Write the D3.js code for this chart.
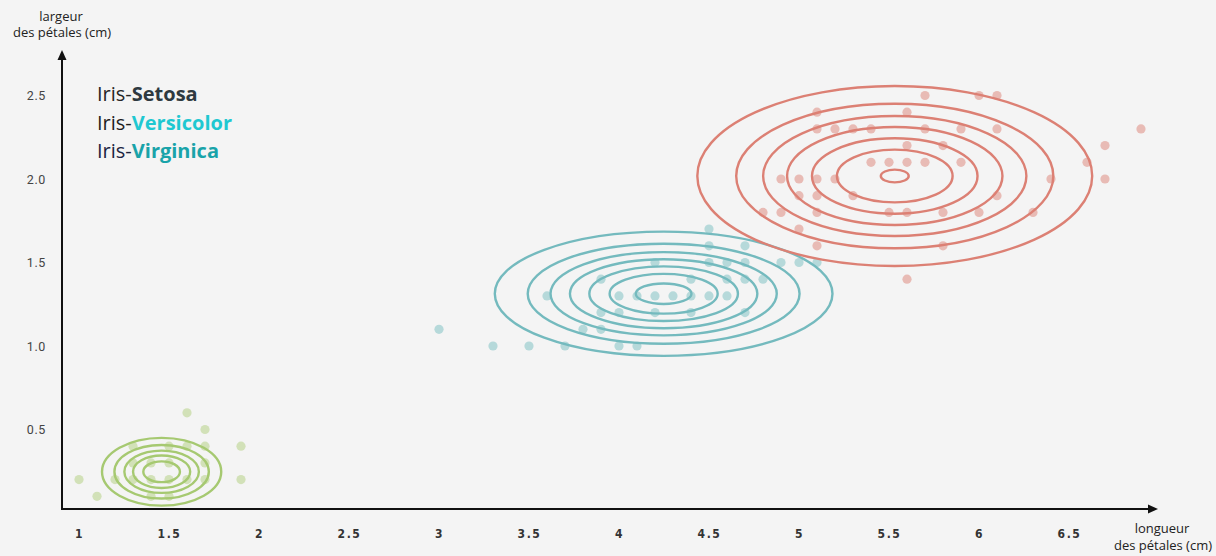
<!DOCTYPE html>
<html>
<head>
<meta charset="utf-8">
<script src="https://cdn.jsdelivr.net/npm/d3@7"></script>
<style>
  html, body { margin: 0; padding: 0; background: #f4f4f4; }
  svg { display: block; }
</style>
</head>
<body>
<svg id="chart" width="1216" height="556"></svg>
<script>
// Petal length (cm) on x, petal width (cm) on y
const xTicks = [1, 1.5, 2, 2.5, 3, 3.5, 4, 4.5, 5, 5.5, 6, 6.5];
const yTicks = [0.5, 1.0, 1.5, 2.0, 2.5];

const speciesNames = ["Setosa", "Versicolor", "Virginica"];

// Observations: [petal length, petal width]
const setosaPoints = [
  [1.0, 0.2], [1.1, 0.1], [1.2, 0.2], [1.3, 0.2], [1.3, 0.3], [1.3, 0.4],
  [1.4, 0.1], [1.4, 0.2], [1.4, 0.3], [1.5, 0.1], [1.5, 0.2], [1.5, 0.3],
  [1.5, 0.4], [1.6, 0.2], [1.6, 0.4], [1.6, 0.6], [1.7, 0.2], [1.7, 0.3],
  [1.7, 0.4], [1.7, 0.5], [1.9, 0.2], [1.9, 0.4]
];
const versicolorPoints = [
  [3.0, 1.1], [3.3, 1.0], [3.5, 1.0], [3.7, 1.0], [4.0, 1.0], [4.1, 1.0],
  [3.8, 1.1], [3.9, 1.1], [3.9, 1.2], [4.0, 1.2], [4.2, 1.2], [4.4, 1.2],
  [4.7, 1.2], [3.6, 1.3], [4.0, 1.3], [4.1, 1.3], [4.2, 1.3], [4.3, 1.3],
  [4.4, 1.3], [4.5, 1.3], [4.6, 1.3], [3.9, 1.4], [4.4, 1.4], [4.6, 1.4],
  [4.7, 1.4], [4.8, 1.4], [4.2, 1.5], [4.5, 1.5], [4.6, 1.5], [4.7, 1.5],
  [4.9, 1.5], [5.0, 1.5], [5.1, 1.5], [4.5, 1.6], [4.7, 1.6], [4.5, 1.7]
];
const virginicaPoints = [
  [5.7, 2.5], [6.0, 2.5], [6.1, 2.5], [5.1, 2.4], [5.6, 2.4], [5.1, 2.3],
  [5.2, 2.3], [5.3, 2.3], [5.4, 2.3], [5.7, 2.3], [5.9, 2.3], [6.1, 2.3],
  [6.9, 2.3], [5.6, 2.2], [5.8, 2.2], [6.7, 2.2], [5.4, 2.1], [5.5, 2.1],
  [5.6, 2.1], [5.7, 2.1], [5.9, 2.1], [6.6, 2.1], [4.9, 2.0], [5.0, 2.0],
  [5.1, 2.0], [5.2, 2.0], [6.4, 2.0], [6.7, 2.0], [5.0, 1.9], [5.1, 1.9],
  [5.3, 1.9], [6.1, 1.9], [4.8, 1.8], [4.9, 1.8], [5.1, 1.8], [5.5, 1.8],
  [5.6, 1.8], [5.8, 1.8], [6.0, 1.8], [6.3, 1.8], [5.0, 1.7], [5.1, 1.6],
  [5.8, 1.6], [5.6, 1.4]
];

// Gaussian fit per species: mean and standard deviation on each axis
const speciesMeans = [[1.459, 0.247], [4.248, 1.313], [5.532, 2.018]];
const speciesSd    = [[0.1725, 0.1056], [0.469, 0.186], [0.554, 0.272]];

// Density contour levels, expressed as distance from the mean in standard deviations
const setosaLevels     = [0.59, 0.92, 1.2, 1.52, 1.92];
const versicolorLevels = [0.33, 0.64, 0.88, 1.11, 1.34, 1.61, 2.0];
const virginicaLevels  = [0.14, 0.58, 0.83, 1.08, 1.32, 1.59, 1.98];

const series = [
  { name: speciesNames[0], points: setosaPoints,     mean: speciesMeans[0], sd: speciesSd[0], levels: setosaLevels,
    dot: "#d2e1b8", line: "#a6c971", label: "#2e3940", prefix: "#262626" },
  { name: speciesNames[1], points: versicolorPoints, mean: speciesMeans[1], sd: speciesSd[1], levels: versicolorLevels,
    dot: "#b6d9da", line: "#74babe", label: "#1fc8d1", prefix: "#1e1e1e" },
  { name: speciesNames[2], points: virginicaPoints,  mean: speciesMeans[2], sd: speciesSd[2], levels: virginicaLevels,
    dot: "#e8bbb5", line: "#dc8074", label: "#19a3a9", prefix: "#1b2442" }
];

const svg = d3.select("#chart");
svg.append("rect").attr("width", 1216).attr("height", 556).attr("fill", "#f4f4f4");

const x = d3.scaleLinear().domain([1, 7]).range([79, 1159]);
const y = d3.scaleLinear().domain([0, 2.5]).range([513, 95.5]);

// Frame of the axes (arrowed lines)
const axisX0 = 62, axisY0 = 509, axisXEnd = 1158, axisYEnd = 50;

// Marks
series.forEach(s => {
  const g = svg.append("g");
  g.selectAll("circle")
    .data(s.points)
    .join("circle")
    .attr("cx", d => x(d[0]))
    .attr("cy", d => y(d[1]))
    .attr("r", 4.6)
    .attr("fill", s.dot);

  g.selectAll("ellipse")
    .data(s.levels)
    .join("ellipse")
    .attr("cx", x(s.mean[0]))
    .attr("cy", y(s.mean[1]))
    .attr("rx", k => x(s.mean[0] + k * s.sd[0]) - x(s.mean[0]))
    .attr("ry", k => y(s.mean[1]) - y(s.mean[1] + k * s.sd[1]))
    .attr("fill", "none")
    .attr("stroke", s.line)
    .attr("stroke-width", 2.4);
});

// Axis lines with arrowheads
svg.append("line")
  .attr("x1", axisX0).attr("y1", axisY0 + 1).attr("x2", axisX0).attr("y2", axisYEnd + 6)
  .attr("stroke", "#111").attr("stroke-width", 2);
svg.append("path")
  .attr("d", `M${axisX0},${axisYEnd} L${axisX0 - 4.5},${axisYEnd + 10} L${axisX0 + 4.5},${axisYEnd + 10} Z`)
  .attr("fill", "#111");
svg.append("line")
  .attr("x1", axisX0 - 1).attr("y1", axisY0).attr("x2", axisXEnd - 6).attr("y2", axisY0)
  .attr("stroke", "#111").attr("stroke-width", 2);
svg.append("path")
  .attr("d", `M${axisXEnd},${axisY0} L${axisXEnd - 10},${axisY0 - 4.5} L${axisXEnd - 10},${axisY0 + 4.5} Z`)
  .attr("fill", "#111");

// Tick labels
const xAxis = svg.append("g")
  .attr("transform", `translate(0,${axisY0})`)
  .call(d3.axisBottom(x).tickValues(xTicks).tickSize(0).tickPadding(20)
    .tickFormat(d => d3.format("")(d)));
xAxis.select(".domain").remove();
xAxis.selectAll("text")
  .attr("font-family", "'DejaVu Sans Condensed', 'DejaVu Sans', sans-serif")
  .attr("font-weight", "bold")
  .attr("font-size", 12)
  .attr("letter-spacing", "1.6px")
  .attr("fill", "#333");

const yAxis = svg.append("g")
  .attr("transform", `translate(${axisX0},0)`)
  .call(d3.axisLeft(y).tickValues(yTicks).tickSize(0).tickPadding(16)
    .tickFormat(d3.format(".1f")));
yAxis.select(".domain").remove();
yAxis.selectAll("text")
  .attr("font-family", "Roboto, sans-serif")
  .attr("font-size", 12.5)
  .attr("letter-spacing", "0.6px")
  .attr("fill", "#444");

// Axis titles
const titleFont = "'Open Sans', sans-serif";
const yTitle = svg.append("text")
  .attr("font-family", titleFont).attr("font-size", 13).attr("fill", "#222")
  .attr("text-anchor", "middle");
yTitle.append("tspan").attr("x", 61).attr("y", 21).text("largeur");
yTitle.append("tspan").attr("x", 62).attr("y", 37).text("des pétales (cm)");

const xTitle = svg.append("text")
  .attr("font-family", titleFont).attr("font-size", 13).attr("fill", "#222")
  .attr("text-anchor", "middle");
xTitle.append("tspan").attr("x", 1162).attr("y", 533).text("longueur");
xTitle.append("tspan").attr("x", 1163).attr("y", 550).text("des pétales (cm)");

// Legend
const legend = svg.append("g").attr("transform", "translate(97,101)");
series.forEach((s, i) => {
  const t = legend.append("text")
    .attr("y", i * 28.5)
    .attr("font-family", titleFont)
    .attr("font-size", 20);
  t.append("tspan").attr("fill", s.prefix).text("Iris-");
  t.append("tspan").attr("fill", s.label).attr("font-weight", "bold").text(s.name);
});
</script>
</body>
</html>
